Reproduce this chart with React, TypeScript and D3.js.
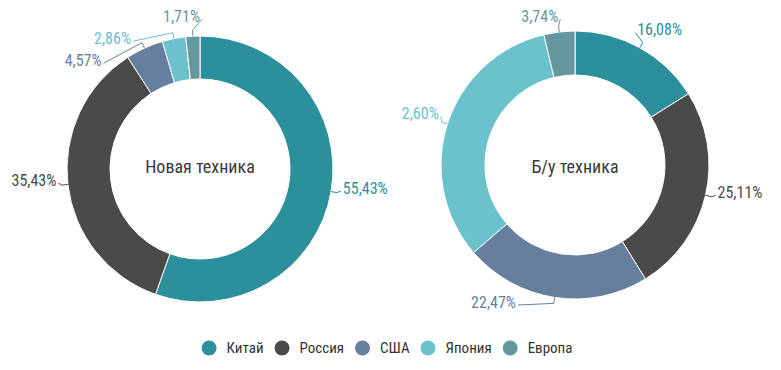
import React, { useEffect, useRef } from 'react';
import * as d3 from 'd3';

// categories + colours
const countries = ['Китай', 'Россия', 'США', 'Япония', 'Европа'];
const colors = ['#2b909c', '#4a4a4a', '#677f9e', '#6bc2cc', '#66979c'];

// shares, %
const newValues = [55.43, 35.43, 4.57, 2.86, 1.71];
const usedValues = [16.08, 25.11, 22.47, 32.6, 3.74];
const titles = ['Новая техника', 'Б/у техника'];

const W = 781;
const H = 370;
const NARROW = '"Liberation Sans Narrow", "Roboto Condensed", "DejaVu Sans Condensed", sans-serif';

const fmt = (v: number) => v.toFixed(2).replace('.', ',') + '%';

type Label = { i: number; mid: number; left: boolean; y: number; x: number };

function layoutLabels(arcs: d3.PieArcDatum<number>[], cx: number, cy: number, r: number): Label[] {
  const top = 16;
  const bottom = 302;
  const items: Label[] = arcs.map((a, i) => {
    const mid = (a.startAngle + a.endAngle) / 2;
    let y = cy - (r + 14) * Math.cos(mid) - 6;
    y = Math.max(top, Math.min(bottom, y));
    return { i, mid, left: mid > Math.PI, y, x: 0 };
  });
  // push overlapping labels apart on each side
  [true, false].forEach(side => {
    const list = items.filter(d => d.left === side).sort((a, b) => a.y - b.y);
    for (let k = 1; k < list.length; k++) list[k].y = Math.max(list[k].y, list[k - 1].y + 22);
    for (let k = list.length - 2; k >= 0; k--) list[k].y = Math.min(list[k].y, list[k + 1].y - 22);
  });
  const A = r + 11;
  const B = r + 16;
  items.forEach(d => {
    const dy = d.y - cy;
    const off = A * Math.sqrt(Math.max(0, 1 - (dy / B) ** 2));
    d.x = cx + (d.left ? -off : off);
  });
  return items;
}

const App = () => {
  const svgRef = useRef<SVGSVGElement>(null);

  useEffect(() => {
    const svg = d3.select(svgRef.current);
    svg.selectAll('*').remove();

    const charts = [
      { values: newValues, title: titles[0], cx: 200, cy: 169, r: 133, clipX: 0 },
      { values: usedValues, title: titles[1], cx: 575, cy: 165, r: 134, clipX: 401 },
    ];

    const pie = d3.pie<number>().sort(null).value(d => d);

    charts.forEach((c, ci) => {
      const clipId = `clip-${ci}`;
      svg.append('clipPath').attr('id', clipId)
        .append('rect').attr('x', c.clipX).attr('y', 0).attr('width', W - c.clipX).attr('height', 325);

      const g = svg.append('g').attr('clip-path', `url(#${clipId})`);
      const arcs = pie(c.values);
      const arc = d3.arc<d3.PieArcDatum<number>>().innerRadius(90).outerRadius(c.r);

      g.append('g')
        .attr('transform', `translate(${c.cx},${c.cy})`)
        .selectAll('path')
        .data(arcs)
        .enter()
        .append('path')
        .attr('d', arc)
        .attr('fill', (d, i) => colors[i])
        .attr('stroke', '#fff')
        .attr('stroke-width', 1);

      // data labels + connectors
      const labels = layoutLabels(arcs, c.cx, c.cy, c.r);
      labels.forEach(l => {
        const sx = c.cx + c.r * Math.sin(l.mid);
        const sy = c.cy - c.r * Math.cos(l.mid);
        const bx = c.cx + (c.r + 6) * Math.sin(l.mid);
        const by = c.cy - (c.r + 6) * Math.cos(l.mid);
        const lx = l.x + (l.left ? 2 : -2);
        g.append('path')
          .attr('d', `M${lx},${l.y + 3}L${bx},${by}L${sx},${sy}`)
          .attr('fill', 'none')
          .attr('stroke', colors[l.i])
          .attr('stroke-width', 1);
        g.append('text')
          .attr('x', l.x)
          .attr('y', l.y)
          .attr('dy', '0.35em')
          .attr('text-anchor', l.left ? 'end' : 'start')
          .attr('font-family', NARROW)
          .attr('font-size', 16)
          .attr('fill', colors[l.i])
          .text(fmt(c.values[l.i]));
      });

      g.append('text')
        .attr('x', c.cx)
        .attr('y', 167)
        .attr('dy', '0.35em')
        .attr('text-anchor', 'middle')
        .attr('font-family', NARROW)
        .attr('font-size', 18)
        .attr('fill', '#3a3a3a')
        .text(c.title);
    });

    // legend
    const legend = svg.append('g');
    let x = 0;
    countries.forEach((name, i) => {
      const item = legend.append('g');
      item.append('circle').attr('cx', x + 7.5).attr('cy', 0).attr('r', 7.5).attr('fill', colors[i]);
      const t = item.append('text')
        .attr('x', x + 25)
        .attr('y', 0)
        .attr('dy', '0.35em')
        .attr('font-family', NARROW)
        .attr('font-size', 15)
        .attr('fill', '#333')
        .text(name);
      const w = (t.node() as SVGTextElement).getComputedTextLength();
      x += 25 + w + 11;
    });
    const total = x - 11;
    legend.attr('transform', `translate(${387 - total / 2},348)`);
  }, []);

  return (
    <svg
      ref={svgRef}
      width={W}
      height={H}
      style={{ position: 'absolute', left: 0, top: 0, background: '#fff' }}
    />
  );
};

export default App;
